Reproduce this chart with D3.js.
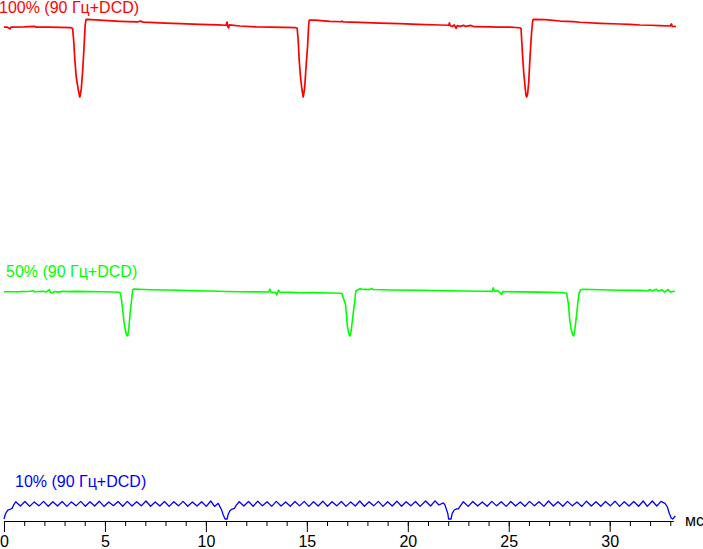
<!DOCTYPE html>
<html>
<head>
<meta charset="utf-8">
<script src="https://cdn.jsdelivr.net/npm/d3@7"></script>
<style>
	body { margin: 0; background: #fff; }
	#canvas { width: 703px; height: 549px; }
	text { font-family: "Liberation Sans", Arial, sans-serif; }
</style>
</head>
<body>
<div id="canvas"></div>
<script>
// time in ms, brightness in relative units (0 = bottom of dip, 100 = top level)
var redSeries = [
	[0, 89.5], [0.15, 89.7], [0.30, 87.5], [0.35, 89.6], [1.0, 89.8], [1.5, 90.5], [1.6, 89.6], [2.2, 89.5], [2.8, 89.3], [3.30, 88.9], [3.37, 88.2],
	[3.40, 87.5], [3.45, 73], [3.51, 47], [3.58, 25], [3.68, 9], [3.75, 0], [3.77, 1], [3.83, 11], [3.90, 35], [3.97, 67], [4.02, 92], [4.06, 99.3], [4.12, 99.5],
	[4.75, 98.5], [5.75, 97], [6.6, 96.2], [6.75, 97.3], [6.9, 96], [7.23, 95.6], [8.0, 94.8], [8.72, 94], [9.71, 93.2], [10.6, 92.4], [11.0, 92], [11.05, 96.1], [11.08, 90.5], [11.12, 88.5], [11.16, 92.5], [11.69, 91],
	[12.5, 90.0], [13.2, 89.6], [13.9, 89.2], [14.45, 88.9],
	[14.52, 88.1], [14.57, 73.1], [14.62, 47.4], [14.69, 24.4], [14.76, 9], [14.82, 0], [14.89, 11.5], [14.95, 34.6], [15.04, 66.7], [15.09, 92.3], [15.12, 98.7],
	[15.40, 98.6], [16.15, 97], [16.7, 96.5], [16.75, 97.4], [16.8, 96.3], [17.63, 95.8], [18.6, 94.8], [19.61, 94], [20.5, 93], [21.6, 92.3], [22.03, 92], [22.06, 95], [22.1, 91.3], [22.2, 90.4], [22.3, 92.4], [22.39, 88], [22.45, 91.5], [22.6, 90.5], [22.75, 91.8], [22.9, 90.6],
	[23.1, 91.8], [23.3, 90.1], [24.07, 89.8], [24.5, 89.5], [25.06, 89.6], [25.55, 88.8],
	[25.61, 87.6], [25.64, 73.1], [25.69, 51.3], [25.74, 32.1], [25.80, 15.4], [25.85, 2.6], [25.89, 0], [25.94, 5.1], [25.99, 19.2], [26.04, 44.9], [26.09, 66.7], [26.14, 85.9], [26.19, 98.7], [26.25, 99.6],
	[26.8, 99.3], [27.54, 97.4], [28.2, 96.6], [28.53, 95.8], [29.52, 94.5], [30.51, 93.6], [31.0, 93.2], [31.50, 92.3], [32.0, 92.0], [32.49, 91.4], [33.0, 91.0], [33.06, 93.6], [33.1, 90.4], [33.28, 90.6]
];

var greenSeries = [
	[0, 90.4], [0.8, 90.6], [1.3, 91.2], [1.45, 92.5], [1.5, 90.2], [1.9, 91.4], [2.1, 90.0], [2.25, 94.5], [2.3, 89.0], [2.4, 87.8], [2.5, 90.8], [2.7, 89.6], [2.9, 91.4], [3.2, 90.6], [3.6, 91.0], [4.2, 90.5], [4.9, 90.2], [5.4, 89.8], [5.70, 89.2],
	[5.75, 88.4], [5.81, 76.9], [5.88, 53.1], [5.94, 29.2], [6.01, 12.2], [6.08, 0.6], [6.13, 0.6], [6.19, 19], [6.26, 53.1], [6.33, 76.9], [6.37, 93.9], [6.44, 95.9],
	[6.7, 95.4], [7.23, 94.5], [8.0, 93.8], [8.72, 93.3], [9.5, 92.5], [10.2, 91.8], [11.0, 90.9], [11.69, 90.2], [13.1, 89.8], [13.17, 95.5], [13.22, 89.6], [13.45, 88.9], [13.5, 84], [13.55, 89.3], [13.6, 93.5], [13.65, 89.5], [14.2, 89.0], [14.66, 88.4], [15.3, 88.6], [16.15, 87.8], [16.6, 87.2],
	[16.73, 87.1], [16.92, 63.3], [17.0, 22.4], [17.07, 5.5], [17.14, 0], [17.20, 12.2], [17.30, 47.6], [17.38, 73.5], [17.43, 92.4],
	[17.63, 96.5], [17.8, 94.8], [17.88, 95.3], [18.1, 94.6], [18.21, 97.3], [18.3, 94.8], [19.12, 94.0], [20.6, 93.3], [22.09, 92.2], [23.58, 91.2], [24.2, 91.0], [24.23, 98.6], [24.3, 91.2], [24.45, 92.6], [24.5, 90.4], [24.65, 85.1], [24.7, 90.8], [25.5, 90.0], [26.5, 89.6], [27.5, 88.8], [27.8, 87.6],
	[27.87, 87.1], [27.95, 66.7], [28.02, 32.7], [28.10, 12.2], [28.17, 2], [28.22, 0], [28.28, 15.7], [28.35, 39.4], [28.42, 66.7], [28.48, 87.1], [28.56, 94.5],
	[28.69, 95.3], [29.5, 94.5], [30.5, 93.5], [31.5, 93.1], [31.9, 92.4], [32.0, 95.0], [32.1, 92.0], [32.3, 95.5], [32.4, 91.6], [32.6, 94.5], [32.7, 89.6], [32.9, 94.8], [33.0, 90.0], [33.23, 91.2]
];

var blueSeries = [
	[0.00, 0], [0.07, 28], [0.13, 40], [0.20, 50], [0.30, 54], [0.40, 59], [0.48, 78],
	[0.58, 96], [0.81, 72], [1.04, 97], [1.27, 70], [1.50, 95], [1.73, 73], [1.96, 98], [2.19, 71],
	[2.42, 96], [2.65, 72], [2.88, 97], [3.11, 70], [3.34, 95], [3.57, 73], [3.80, 98], [4.03, 71],
	[4.26, 96], [4.49, 72], [4.72, 99], [4.95, 70], [5.19, 95], [5.42, 74], [5.65, 97], [5.88, 71],
	[6.11, 98], [6.34, 72], [6.57, 96], [6.80, 73], [7.03, 100], [7.26, 71], [7.49, 95], [7.72, 72],
	[7.95, 97], [8.18, 70], [8.41, 96], [8.64, 73], [8.87, 98], [9.10, 71], [9.33, 95], [9.56, 72],
	[9.79, 96], [10.02, 70], [10.24, 100], [10.43, 70], [10.61, 87],
	[10.78, 50], [10.86, 22], [10.95, 0], [11.05, 0], [11.11, 28], [11.19, 46], [11.28, 54], [11.41, 59], [11.52, 78],
	[11.65, 96], [11.88, 72], [12.11, 97], [12.34, 71], [12.57, 99], [12.80, 73], [13.03, 96], [13.26, 70],
	[13.49, 98], [13.72, 72], [13.95, 95], [14.18, 71], [14.41, 97], [14.64, 73], [14.87, 98], [15.10, 70],
	[15.33, 96], [15.56, 72], [15.79, 99], [16.02, 71], [16.25, 96], [16.48, 73], [16.71, 97], [16.94, 70],
	[17.17, 95], [17.40, 72], [17.62, 100], [17.85, 71], [18.08, 96], [18.31, 73], [18.54, 98], [18.77, 70],
	[19.00, 96], [19.23, 72], [19.46, 99], [19.69, 71], [19.92, 96], [20.15, 73], [20.38, 97], [20.61, 70],
	[20.88, 100], [21.13, 72], [21.35, 101], [21.54, 78], [21.76, 90], [21.84, 78],
	[21.98, 31], [22.02, 0], [22.14, 0], [22.20, 31], [22.30, 50], [22.42, 56], [22.50, 56], [22.64, 78],
	[22.75, 96], [22.99, 70], [23.22, 97], [23.46, 72], [23.69, 95], [23.93, 71], [24.16, 98], [24.40, 73],
	[24.63, 96], [24.87, 70], [25.10, 97], [25.34, 72], [25.57, 95], [25.80, 71], [26.03, 98], [26.27, 73],
	[26.50, 96], [26.74, 70], [26.97, 100], [27.21, 72], [27.44, 96], [27.68, 71], [27.91, 98], [28.15, 73],
	[28.38, 95], [28.62, 70], [28.85, 99], [29.09, 72], [29.32, 96], [29.56, 71], [29.79, 97], [30.03, 73],
	[30.26, 99], [30.49, 70], [30.72, 96], [30.96, 72], [31.19, 97], [31.43, 71], [31.66, 100], [31.86, 70],
	[32.11, 100], [32.33, 72], [32.54, 98], [32.74, 87],
	[32.85, 68], [32.95, 32], [33.05, 4], [33.12, 0], [33.18, 7], [33.25, 17]
];

var traces = [
	{ name: "100% (90 Гц+DCD)", data: redSeries, color: "#ff0000" },
	{ name: "50% (90 Гц+DCD)", data: greenSeries, color: "#00ff00" },
	{ name: "10% (90 Гц+DCD)", data: blueSeries, color: "#0000ff" }
];

var majorTicks = [0, 5, 10, 15, 20, 25, 30];
var minorTicks = [0, 1, 2, 3, 4, 5, 6, 7, 8, 9, 10, 11, 12, 13, 14, 15, 16, 17, 18, 19, 20, 21, 22, 23, 24, 25, 26, 27, 28, 29, 30, 31, 32, 33];
var unitLabel = "мс";

drawVis();

function drawVis(){
	var w = 703, h = 549;
	var svg = d3.select("#canvas")
		.append("svg")
		.attr("width", w)
		.attr("height", h);

	var xScale = d3.scaleLinear()
		.domain([0, 33.15])
		.range([4, 673.3]);

	// each trace sits in its own band
	var bands = [
		{ range: [97, 19], labelX: -1, labelY: 13, width: 1.7 },
		{ range: [336, 287], labelX: 6, labelY: 277, width: 1.6 },
		{ range: [519, 501], labelX: 15, labelY: 487, width: 1.3 }
	];

	traces.forEach(function(t, i){
		var b = bands[i];
		var yScale = d3.scaleLinear().domain([0, 100]).range(b.range);
		var line = d3.line()
			.x(function(d){ return xScale(d[0]); })
			.y(function(d){ return yScale(d[1]); });

		svg.append("path")
			.datum(t.data)
			.attr("fill", "none")
			.attr("stroke", t.color)
			.attr("stroke-width", b.width)
			.attr("stroke-linejoin", "round")
			.attr("d", line);

		svg.append("text")
			.attr("x", b.labelX)
			.attr("y", b.labelY)
			.attr("fill", t.color)
			.attr("font-size", 16)
			.text(t.name);
	});

	var axisY = 521;

	svg.append("g")
		.attr("transform", "translate(0," + axisY + ")")
		.call(d3.axisBottom(xScale).tickValues(minorTicks).tickSize(5).tickSizeOuter(0).tickFormat(""))
		.call(function(g){ g.select(".domain").remove(); });

	var axis = svg.append("g")
		.attr("transform", "translate(0," + axisY + ")")
		.call(d3.axisBottom(xScale)
			.tickValues(majorTicks)
			.tickSize(11)
			.tickSizeOuter(0)
			.tickPadding(4)
			.tickFormat(d3.format("d")));

	axis.selectAll("text")
		.attr("font-size", 16)
		.attr("font-family", "'Liberation Sans', Arial, sans-serif")
		.attr("fill", "#000");

	svg.append("text")
		.attr("x", 685)
		.attr("y", 526)
		.attr("font-size", 16)
		.attr("fill", "#000")
		.text(unitLabel);
}
</script>
</body>
</html>
